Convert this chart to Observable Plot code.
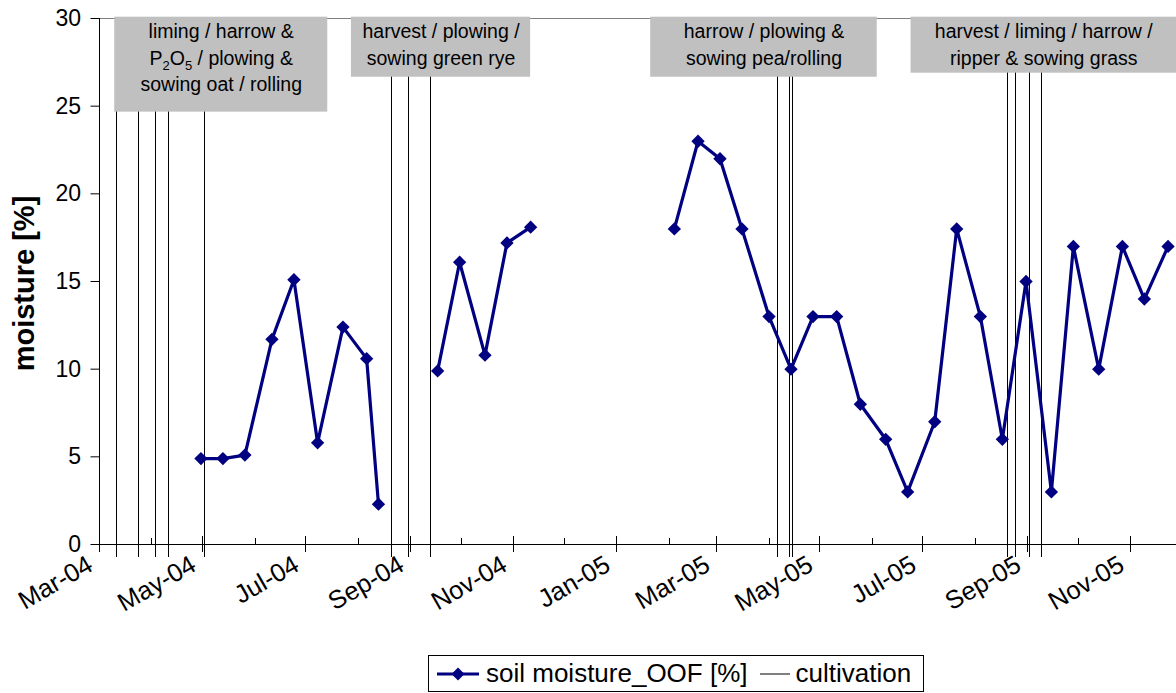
<!DOCTYPE html>
<html><head><meta charset="utf-8">
<script src="https://cdn.jsdelivr.net/npm/d3@7"></script>
<script src="https://cdn.jsdelivr.net/npm/@observablehq/plot@0.6"></script>
<style>
body{margin:0;background:#fff;font-family:"Liberation Sans",Arial,sans-serif;}
#chart{position:relative;width:1176px;height:693px;overflow:hidden;}
#chart svg{font-family:"Liberation Sans",Arial,sans-serif;}
#legend{position:absolute;left:428px;top:655px;width:494px;height:35px;border:1px solid #000;display:flex;align-items:center;font-size:26px;color:#000;white-space:nowrap;}
#legend svg{display:block;}
</style></head><body><div id="chart"></div><script>
// sampling dates and soil moisture values (series: soil moisture_OOF [%])
const sampleDates = [
  "2004-04-30","2004-05-13","2004-05-26","2004-06-11","2004-06-24","2004-07-08","2004-07-23","2004-08-06","2004-08-13",
  "2004-09-17","2004-09-30","2004-10-15","2004-10-28","2004-11-11",
  "2005-02-04","2005-02-18","2005-03-03","2005-03-16","2005-04-01","2005-04-14","2005-04-27","2005-05-11","2005-05-25",
  "2005-06-09","2005-06-22","2005-07-08","2005-07-21","2005-08-04","2005-08-17","2005-08-31","2005-09-15","2005-09-28",
  "2005-10-13","2005-10-27","2005-11-09","2005-11-23"
];
const moisture = [
  4.9, 4.9, 5.1, 11.7, 15.1, 5.8, 12.4, 10.6, 2.3,
  9.9, 16.1, 10.8, 17.2, 18.1,
  18, 23, 22, 18, 13, 10, 13, 13, 8,
  6, 3, 7, 18, 13, 6, 15, 3, 17,
  10, 17, 14, 17
];
const segment = [
  1,1,1,1,1,1,1,1,1,
  2,2,2,2,2,
  3,3,3,3,3,3,3,3,3,3,3,3,3,3,3,3,3,3,3,3,3,3
];
// cultivation events (vertical lines)
const cultivationDates = [
  "2004-03-11","2004-03-24","2004-04-03","2004-04-11","2004-05-02",
  "2004-08-21","2004-08-31","2004-09-13",
  "2005-04-06","2005-04-13","2005-04-15",
  "2005-08-20","2005-08-25","2005-09-02","2005-09-09"
];
// annotation boxes
const boxStart = ["2004-03-10","2004-07-28","2005-01-21","2005-06-24"];
const boxEnd   = ["2004-07-14","2004-11-11","2005-06-04","2005-11-28"];
const boxBottom = [24.66, 26.65, 26.65, 26.88];
const boxLabels = [
  "liming / harrow &\nP2O5 / plowing &\nsowing oat / rolling",
  "harvest / plowing /\nsowing green rye",
  "harrow / plowing &\nsowing pea/rolling",
  "harvest / liming / harrow /\nripper & sowing grass"
];
// axes
const xDomain = ["2004-03-01","2005-11-28"];
const majorTicks = ["2004-03-01","2004-05-01","2004-07-01","2004-09-01","2004-11-01","2005-01-01","2005-03-01","2005-05-01","2005-07-01","2005-09-01","2005-11-01"];
const minorTicks = ["2004-04-01","2004-06-01","2004-08-01","2004-10-01","2004-12-01","2005-02-01","2005-04-01","2005-06-01","2005-08-01","2005-10-01"];
const yTicks = [0,5,10,15,20,25,30];
const yDomain = [0,30];

const P = s => new Date(s + "T00:00:00Z");
const data = sampleDates.map((d,i)=>({date:P(d), value:moisture[i], seg:segment[i]}));
const cult = cultivationDates.map(P);
const boxes = boxLabels.map((t,i)=>({x1:P(boxStart[i]), x2:P(boxEnd[i]), y1:boxBottom[i], y2:yDomain[1], label:t,
  xm:new Date((+P(boxStart[i]) + +P(boxEnd[i]))/2)}));
const majors = majorTicks.map(P), minors = minorTicks.map(P);
const fmt = d3.utcFormat("%b-%y");

const chart = Plot.plot({
  width:1176, height:655,
  marginLeft:99, marginRight:0, marginTop:18, marginBottom:111,
  style:{fontFamily:'"Liberation Sans", Arial, sans-serif', background:"#fff", color:"#000"},
  x:{type:"utc", domain:xDomain.map(P)},
  y:{domain:yDomain},
  marks:[
    Plot.ruleY([yDomain[1]], {stroke:"#808080"}),
    Plot.ruleX(cult, {x:d=>d, y1:yDomain[1], y2:yDomain[0], insetBottom:-13, stroke:"#000", strokeWidth:1, shapeRendering:"crispEdges"}),
    Plot.rect(boxes, {x1:"x1", x2:"x2", y1:"y1", y2:"y2", fill:"#c0c0c0", insetTop:-1.3}),
    Plot.text(boxes, {x:"xm", y:"y2", text:"label", lineAnchor:"top", dy:0, fontSize:19.5, lineHeight:1.38, fill:"#000"}),
    Plot.ruleX([P(xDomain[0])], {y1:yDomain[1], y2:yDomain[0], stroke:"#000", shapeRendering:"crispEdges"}),
    Plot.ruleY([0], {stroke:"#000", shapeRendering:"crispEdges"}),
    Plot.ruleX(majors, {x:d=>d, y1:0, y2:0, insetTop:-8, insetBottom:-8, stroke:"#000", shapeRendering:"crispEdges"}),
    Plot.ruleX(minors, {x:d=>d, y1:0, y2:0, insetTop:-6.5, insetBottom:0, stroke:"#000", shapeRendering:"crispEdges"}),
    Plot.axisX({ticks:majors, tickFormat:fmt, tickSize:0, tickRotate:-30, fontSize:25.5, tickPadding:18, dx:-9, label:null}),
    Plot.axisY({ticks:yTicks, tickSize:8.5, tickPadding:10, fontSize:23, label:null, stroke:"#000"}),
    Plot.text(["moisture [%]"], {frameAnchor:"left", textAnchor:"middle", dx:-75, dy:2, rotate:-90, fontSize:29, fontWeight:"bold", fill:"#000"}),
    Plot.line(data, {x:"date", y:"value", z:"seg", stroke:"#000080", strokeWidth:3.2, curve:"linear"}),
    Plot.dot(data, {x:"date", y:"value", symbol:"diamond2", r:6, fill:"#000080", stroke:"none"})
  ]
});
document.getElementById("chart").appendChild(chart);

// subscripts in P2O5
chart.querySelectorAll("tspan, text").forEach(el=>{
  if (el.childElementCount===0 && el.textContent.startsWith("P2O5")) {
    const rest = el.textContent.slice(4);
    el.textContent = "";
    const ns = "http://www.w3.org/2000/svg";
    const add = (t, opts={}) => { const s=document.createElementNS(ns,"tspan"); s.textContent=t; for (const k in opts) s.setAttribute(k, opts[k]); el.appendChild(s); };
    add("P"); add("2",{dy:"5","font-size":"13"}); add("O",{dy:"-5"}); add("5",{dy:"5","font-size":"13"}); add(rest,{dy:"-5"});
  }
});

// legend
const leg = document.createElement("div");
leg.id = "legend";
leg.innerHTML = `
<svg width="42" height="20" style="margin-left:8px"><line x1="0" y1="10" x2="42" y2="10" stroke="#000080" stroke-width="3"/><path d="M21 3.5 L27.5 10 L21 16.5 L14.5 10 Z" fill="#000080"/></svg>
<span style="margin-left:7px">soil moisture_OOF [%]</span>
<svg width="30" height="20" style="margin-left:12px"><line x1="0" y1="10" x2="30" y2="10" stroke="#000" stroke-width="1"/></svg>
<span style="margin-left:6px">cultivation</span>`;
document.getElementById("chart").appendChild(leg);
</script></body></html>
